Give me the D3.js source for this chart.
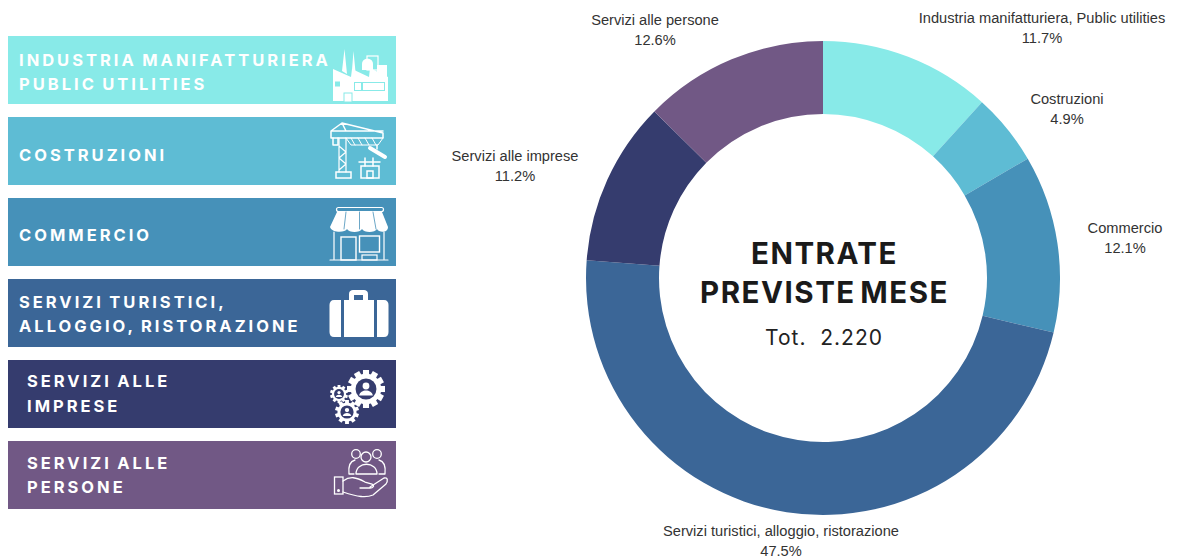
<!DOCTYPE html>
<html lang="en">
<head>
<meta charset="UTF-8">
<title>Entrate previste mese</title>
<script src="https://d3js.org/d3.v7.min.js"></script>
<style>
  html, body { margin: 0; padding: 0; background: #fff; }
  svg { display: block; }
  .legend-text { font-family: Inter, sans-serif; font-weight: 700; font-size: 16.5px; letter-spacing: 3px; word-spacing: -1.5px; fill: #fff; }
  .slice-label { font-family: "Liberation Sans", sans-serif; font-size: 14.65px; fill: #333; text-anchor: middle; }
  .center-title { font-family: Inter, sans-serif; font-weight: 700; font-size: 29.5px; letter-spacing: 1.5px; word-spacing: -4px; fill: #1a1a1a; text-anchor: middle; }
  .center-total { font-family: Inter, sans-serif; font-size: 21px; letter-spacing: 1px; fill: #222; text-anchor: middle; }
</style>
</head>
<body>
<svg id="chart" width="1182" height="559"></svg>
<script>
  // data
  const categories = [
    "Industria manifatturiera, Public utilities",
    "Costruzioni",
    "Commercio",
    "Servizi turistici, alloggio, ristorazione",
    "Servizi alle imprese",
    "Servizi alle persone"
  ];
  const shares = [11.7, 4.9, 12.1, 47.5, 11.2, 12.6];
  const colors = ["#88eae8", "#5ebcd4", "#4691b9", "#3b6697", "#353c6e", "#715885"];
  const legendLines = [
    ["INDUSTRIA MANIFATTURIERA", "PUBLIC UTILITIES"],
    ["COSTRUZIONI"],
    ["COMMERCIO"],
    ["SERVIZI TURISTICI,", "ALLOGGIO, RISTORAZIONE"],
    ["SERVIZI ALLE", "IMPRESE"],
    ["SERVIZI ALLE", "PERSONE"]
  ];
  const centerTitle = ["ENTRATE", "PREVISTE MESE"];
  const centerTotal = "Tot.  2.220";

  const svg = d3.select("#chart");

  // donut
  const cx = 823, cy = 278, outerR = 237, innerR = 164;
  const pie = d3.pie().sort(null)(shares);
  const arc = d3.arc().innerRadius(innerR).outerRadius(outerR);

  const donut = svg.append("g").attr("transform", `translate(${cx},${cy})`);
  donut.selectAll("path")
    .data(pie)
    .join("path")
    .attr("d", arc)
    .attr("fill", (d, i) => colors[i]);

  // label spots are hand placed, relative to the donut centre
  const labelSpots = [[219, -255], [244, -174], [302, -45], [-42, 258], [-308, -117], [-168, -253]];
  const labels = svg.append("g").attr("transform", `translate(${cx},${cy})`);
  labels.selectAll("text")
    .data(categories)
    .join("text")
    .attr("class", "slice-label")
    .attr("x", (d, i) => labelSpots[i][0])
    .attr("y", (d, i) => labelSpots[i][1])
    .each(function (d, i) {
      const t = d3.select(this);
      t.append("tspan").attr("x", labelSpots[i][0]).text(d);
      t.append("tspan").attr("x", labelSpots[i][0]).attr("dy", 20)
        .text(shares[i].toFixed(1) + "%");
    });

  svg.append("text").attr("class", "center-title").attr("x", cx + 1.5).attr("y", 264).text(centerTitle[0]);
  svg.append("text").attr("class", "center-title").attr("x", cx + 1.5).attr("y", 303).text(centerTitle[1]);
  svg.append("text").attr("class", "center-total").attr("x", cx + 1).attr("y", 345)
    .style("white-space", "pre").text(centerTotal);

  // legend bars
  const barX = 8, barW = 388, barH = 68;
  const barY = d3.scalePoint().domain(d3.range(6)).range([36, 441]);
  const textX = [19, 19, 19, 19, 27, 27];
  const baselines = [[66, 90], [161], [241], [308, 332], [387, 412], [469, 493]];

  svg.append("g").selectAll("rect")
    .data(categories)
    .join("rect")
    .attr("x", barX)
    .attr("y", (d, i) => barY(i))
    .attr("width", barW)
    .attr("height", barH)
    .attr("fill", (d, i) => colors[i]);

  legendLines.forEach((lines, i) => {
    lines.forEach((line, j) => {
      svg.append("text").attr("class", "legend-text")
        .attr("x", textX[i]).attr("y", baselines[i][j]).text(line);
    });
  });

  // icons, page coordinates
  const ink = "#fff";
  const icons = svg.append("g");

  function fillPath(d, col) { icons.append("path").attr("d", d).attr("fill", col || ink); }
  function linePath(d, w, col) {
    icons.append("path").attr("d", d).attr("fill", "none")
      .attr("stroke", col || ink).attr("stroke-width", w || 1.5)
      .attr("stroke-linejoin", "round").attr("stroke-linecap", "round");
  }
  function box(x, y, w, h, fill, stroke, sw, rx) {
    icons.append("rect").attr("x", x).attr("y", y).attr("width", w).attr("height", h)
      .attr("fill", fill).attr("stroke", stroke || "none").attr("stroke-width", sw || 0).attr("rx", rx || 0);
  }
  function dot(x, y, r, fill, stroke, sw) {
    icons.append("circle").attr("cx", x).attr("cy", y).attr("r", r)
      .attr("fill", fill).attr("stroke", stroke || "none").attr("stroke-width", sw || 0);
  }

  // factory
  fillPath("M342 71L344.5 49L347 74ZM352 70L353.5 51L355.5 72Z");
  box(367, 56, 11, 14, "none", ink, 1.2);
  fillPath("M362 70V64C362 57 373 57 373 64V70Z");
  fillPath("M377 72V65H387V78Z");
  fillPath("M333 69L351 77L352 69L369 77L370 68L388 77V101H333Z");
  box(354.5, 82.5, 7, 8, "none", colors[0], 1);
  box(362.5, 82.5, 22, 8, "none", colors[0], 1);
  box(335, 81.5, 5, 5, colors[0]);
  box(344, 93, 8, 9, ink, colors[0], 1);

  // crane, jib and tower with the zigzag bracing
  linePath("M342 123L331 131V138H383V133L342 123L346 131H383M331 131H346", 1.5);
  linePath("M333 138V145H338V138", 1.5);
  linePath("M346 138L351 145H378L383 138M351 138L355 145M358 138L362 145M365 138L369 145M372 138L376 145", 1);
  linePath("M339 138V172M346 138V172M339 146L346 152L339 158L346 164L339 170", 1.2);
  box(336, 172, 15, 6, "none", ink, 1.5);
  linePath("M377 145V149", 1.5);
  linePath("M370 148L385 157", 4);
  box(361, 166, 18, 12, "none", ink, 1.5);
  box(367, 171, 6, 7, "none", ink, 1.5);
  linePath("M359 162H380M365 158V166M373 158V166", 1.5);

  // shop
  box(336.5, 207.5, 47, 4, "none", ink, 1.2, 2);
  fillPath("M337 212H382L388 227C388 233 379 233 377 229C375 233 364 233 362 229C360 233 349 233 347 229C345 233 332 233 330 227Z");
  linePath("M346 212L344 229M359.5 212V229M373 212L376 229", 0.8, colors[2]);
  linePath("M334 232V259M384 232V259M330 260H388", 1.2);
  box(341, 237, 15, 23, "none", ink, 1.4);
  box(359.5, 236, 20, 16, "none", ink, 1.4);
  box(362, 255, 15, 5, "none", ink, 1.2);

  // suitcase
  fillPath("M341 300V337H334C331 337 329.5 335 329.5 332V305C329.5 302 331 300 334 300Z");
  fillPath("M377 300V337H384C387 337 388.5 335 388.5 332V305C388.5 302 387 300 384 300Z");
  fillPath("M344 300H349V294C349 291 351 290 353 290H364C366 290 368 291 368 294V300H374V337H344ZM354 295V300H363V295Z");

  // gears
  function gear(x, y, r, teeth) {
    dot(x, y, r * 0.8, ink);
    d3.range(teeth).forEach(k => {
      icons.append("rect")
        .attr("x", x - r * 0.16).attr("y", y - r)
        .attr("width", r * 0.32).attr("height", r * 0.4)
        .attr("fill", ink)
        .attr("transform", `rotate(${k * 360 / teeth} ${x} ${y})`);
    });
    dot(x, y, r * 0.55, colors[4]);
    dot(x, y - r * 0.16, r * 0.18, ink);
    fillPath(`M${x - r * 0.36} ${y + r * 0.34}C${x - r * 0.3} ${y},${x + r * 0.3} ${y},${x + r * 0.36} ${y + r * 0.34}Z`);
  }
  gear(366, 389, 19, 12);
  gear(339, 394, 9, 10);
  gear(347, 412, 12, 10);

  // people and hand
  dot(366, 457, 5, "none", ink, 1.3);
  dot(356, 454, 4.3, "none", ink, 1.3);
  dot(377, 454, 4.3, "none", ink, 1.3);
  linePath("M356 474C356 461 377 461 377 474Z", 1.3);
  linePath("M354 474H349C348 465 351 461 355 460M379 474H385C386 465 383 461 379 460", 1.3);
  box(334.5, 477, 8.5, 17, "none", ink, 1.3);
  dot(338.5, 490.5, 1.5, ink);
  linePath("M343 481C350 476 356 477 365 482L372 484C375 486 373 488 370 488H360M370 487L384 478C388 477 388 481 386 484L373 495C366 498 358 497 343 492", 1.3);
</script>
</body>
</html>
